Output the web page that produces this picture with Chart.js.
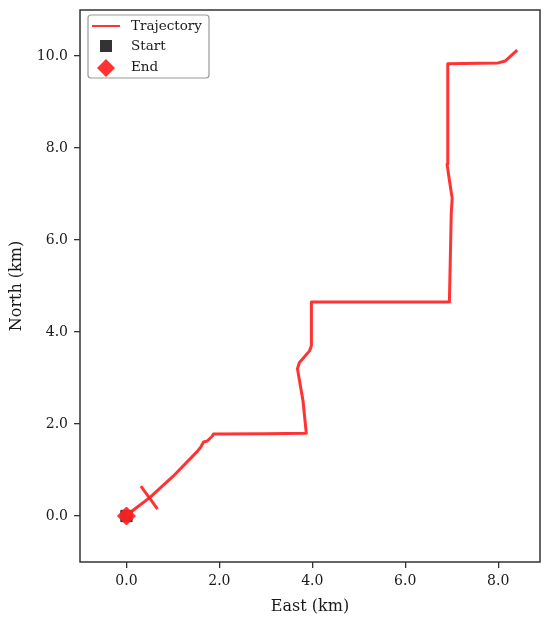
<!doctype html>
<html lang="en">
<head>
<meta charset="utf-8">
<script src="https://cdn.jsdelivr.net/npm/chart.js"></script>
<style>
  html, body { margin: 0; padding: 0; background: #fff; }
  #wrap { width: 550px; height: 622px; }
</style>
</head>
<body>
<div id="wrap"><canvas id="trajChart" width="550" height="622"></canvas></div>
<script>
// trajectory, km
var trajEast  = [0.0, 0.15, 0.50, 1.00, 1.53, 1.60, 1.66, 1.74, 1.85, 1.87, 3.00, 3.87, 3.80, 3.68, 3.72, 3.94, 3.98, 3.98, 5.50, 6.95, 6.97, 6.99, 7.01, 6.95, 6.90, 6.90, 6.92, 6.92, 6.92, 7.60, 8.00, 8.15, 8.41];
var trajNorth = [0.0, 0.13, 0.40, 0.86, 1.41, 1.50, 1.61, 1.63, 1.74, 1.78, 1.79, 1.80, 2.50, 3.20, 3.33, 3.59, 3.70, 4.65, 4.65, 4.65, 5.60, 6.57, 6.91, 7.30, 7.65, 8.09, 8.52, 9.20, 9.83, 9.84, 9.85, 9.89, 10.13];
// crossing mark on first leg
var crossEast  = [0.31, 0.67];
var crossNorth = [0.65, 0.15];
var startPt = [0.0, 0.0];
var endPt   = [0.0, 0.0];
var xTicks = [0, 2, 4, 6, 8];
var yTicks = [0, 2, 4, 6, 8, 10];

function pts(xs, ys) { return xs.map(function (x, i) { return { x: x, y: ys[i] }; }); }

var serif = "'DejaVu Serif', serif";
var red = 'rgba(255,34,34,0.92)';

var framePlugin = {
  id: 'frame',
  afterDraw: function (chart) {
    var c = chart.ctx, a = chart.chartArea;
    c.save();
    c.strokeStyle = '#333';
    c.lineWidth = 1.5;
    c.strokeRect(a.left, a.top, a.right - a.left, a.bottom - a.top);
    // legend box
    var bx = a.left + 8, by = a.top + 5, bw = 121, bh = 63;
    c.fillStyle = 'rgba(255,255,255,0.85)';
    c.strokeStyle = '#999';
    c.lineWidth = 1.2;
    c.beginPath();
    c.roundRect(bx, by, bw, bh, 3);
    c.fill();
    c.stroke();
    c.font = '13.5px ' + serif;
    c.fillStyle = '#1a1a1a';
    c.textBaseline = 'middle';
    c.fillText('Trajectory', bx + 43, by + 11);
    c.fillText('Start', bx + 43, by + 31);
    c.fillText('End', bx + 43, by + 52);
    c.strokeStyle = red;
    c.lineWidth = 2;
    c.beginPath();
    c.moveTo(bx + 4, by + 11);
    c.lineTo(bx + 32, by + 11);
    c.stroke();
    c.fillStyle = '#333';
    c.fillRect(bx + 12, by + 25, 12, 12);
    c.fillStyle = red;
    c.beginPath();
    c.moveTo(bx + 18, by + 44);
    c.lineTo(bx + 27, by + 53);
    c.lineTo(bx + 18, by + 62);
    c.lineTo(bx + 9, by + 53);
    c.closePath();
    c.fill();
    c.restore();
  }
};

new Chart(document.getElementById('trajChart'), {
  type: 'scatter',
  data: {
    datasets: [
      { label: 'Start', data: pts([startPt[0]], [startPt[1]]), pointStyle: 'rect', pointRadius: 8,
        backgroundColor: '#333', borderColor: '#333', borderWidth: 1, order: 3 },
      { label: 'Trajectory', data: pts(trajEast, trajNorth), showLine: true, pointRadius: 0,
        borderColor: red, borderWidth: 3, tension: 0, borderJoinStyle: 'round', order: 2 },
      { label: 'cross', data: pts(crossEast, crossNorth), showLine: true, pointRadius: 0,
        borderColor: red, borderWidth: 3, order: 2 },
      { label: 'End', data: pts([endPt[0]], [endPt[1]]), pointStyle: 'rectRot', pointRadius: 9,
        backgroundColor: red, borderColor: red, order: 1 }
    ]
  },
  options: {
    responsive: false,
    animation: false,
    layout: { padding: { top: 10, right: 10, left: 0, bottom: 0 } },
    plugins: { legend: { display: false }, tooltip: { enabled: false } },
    scales: {
      x: {
        type: 'linear', min: -1.0, max: 8.9,
        afterBuildTicks: function (s) { s.ticks = xTicks.map(function (v) { return { value: v }; }); },
        afterFit: function (s) { s.height = 60; s.paddingLeft = 0; s.paddingRight = 0; },
        grid: { drawOnChartArea: false, drawTicks: true, tickLength: 6, color: '#333', lineWidth: 1.3 },
        border: { display: false },
        ticks: { color: '#1a1a1a', font: { family: serif, size: 14 }, padding: 5,
                 callback: function (v) { return v.toFixed(1); } },
        title: { display: true, text: 'East (km)', color: '#1a1a1a', font: { family: serif, size: 16 }, padding: { top: 0, bottom: 6 } }
      },
      y: {
        type: 'linear', min: -1.0, max: 11.0,
        afterBuildTicks: function (s) { s.ticks = yTicks.map(function (v) { return { value: v }; }); },
        afterFit: function (s) { s.width = 80; s.paddingTop = 0; s.paddingBottom = 0; },
        grid: { drawOnChartArea: false, drawTicks: true, tickLength: 6, color: '#333', lineWidth: 1.3 },
        border: { display: false },
        ticks: { color: '#1a1a1a', font: { family: serif, size: 14 }, padding: 6,
                 callback: function (v) { return v.toFixed(1); } },
        title: { display: true, text: 'North (km)', color: '#1a1a1a', font: { family: serif, size: 16 }, padding: { top: 7, bottom: 0 } }
      }
    }
  },
  plugins: [framePlugin]
});
</script>
</body>
</html>
